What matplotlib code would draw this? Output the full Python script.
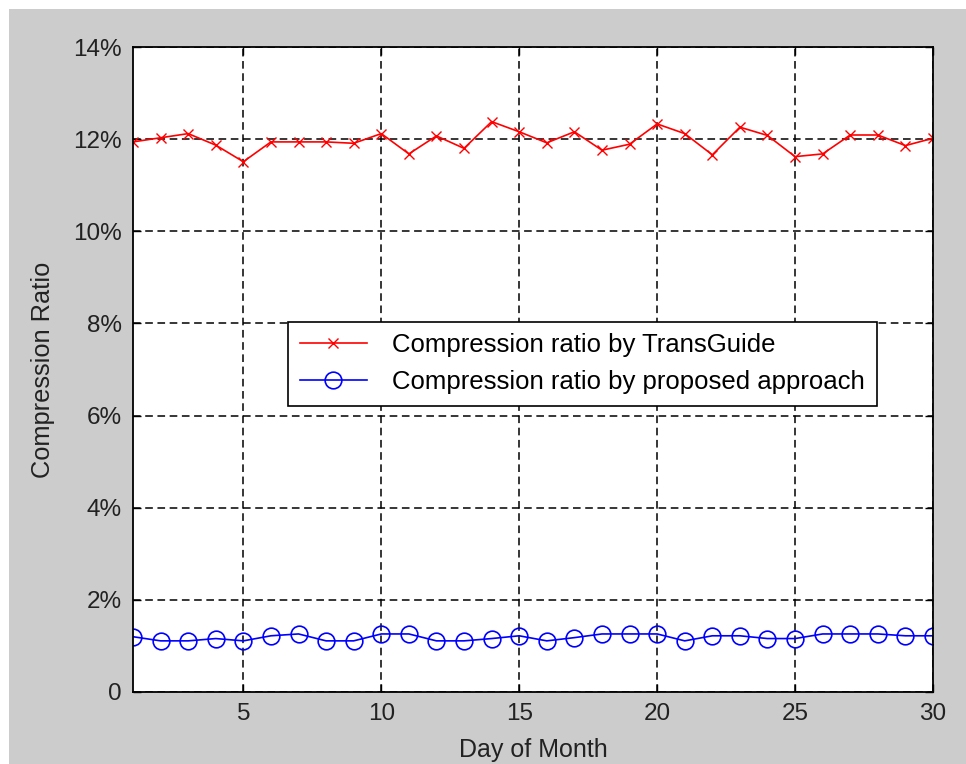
import matplotlib
matplotlib.use("Agg")
import matplotlib.pyplot as plt
from matplotlib.patches import Rectangle
from matplotlib.ticker import FuncFormatter

plt.rcParams['font.family'] = ['Liberation Sans', 'DejaVu Sans']

# Дни месяца и коэффициенты сжатия (в процентах)
days = list(range(1, 31))
transguide = [11.94, 12.03, 12.12, 11.87, 11.51, 11.94, 11.94, 11.94, 11.91, 12.12,
              11.68, 12.07, 11.80, 12.38, 12.16, 11.92, 12.16, 11.76, 11.89, 12.33,
              12.12, 11.66, 12.26, 12.08, 11.62, 11.68, 12.09, 12.09, 11.86, 12.02]
proposed = [1.20, 1.11, 1.11, 1.16, 1.11, 1.22, 1.26, 1.11, 1.11, 1.26,
            1.26, 1.11, 1.11, 1.16, 1.22, 1.11, 1.18, 1.26, 1.26, 1.26,
            1.11, 1.22, 1.22, 1.16, 1.16, 1.26, 1.26, 1.26, 1.22, 1.22]
y_ticks = [0, 2, 4, 6, 8, 10, 12, 14]
x_ticks = [5, 10, 15, 20, 25, 30]

fig = plt.figure(figsize=(9.66, 7.64), dpi=100, facecolor='white')
# серый фон окна
fig.add_artist(Rectangle((9 / 966, 0), 1, 755 / 764, transform=fig.transFigure,
                         facecolor='#cccccc', edgecolor='none', zorder=-10))
ax = fig.add_axes([133 / 966, 72 / 764, 800 / 966, 645 / 764])
ax.set_facecolor('white')

ax.plot(days, transguide, color='red', marker='x', markersize=7, linewidth=1.2,
        markeredgewidth=1.0, label="Compression ratio by TransGuide")
ax.plot(days, proposed, color='blue', marker='o', markersize=12, linewidth=1.2,
        markerfacecolor='none', markeredgewidth=1.2, label="Compression ratio by proposed approach")

ax.set_xlim(1, 30)
ax.set_ylim(0, 14)
ax.set_xticks(x_ticks)
ax.set_yticks(y_ticks)
ax.yaxis.set_major_formatter(FuncFormatter(lambda v, p: "0" if v == 0 else f"{int(v)}%"))

ax.grid(True, color='black', linestyle=(0, (5, 3)), linewidth=1.1)
ax.tick_params(direction='in', length=6, width=1.0, top=True, right=True,
               labelsize=17.5, labelcolor='#222222', pad=8)
for s in ax.spines.values():
    s.set_linewidth(1.3)

ax.set_xlabel("Day of Month", fontsize=18, color='#222222', labelpad=9)
ax.set_ylabel("Compression Ratio", fontsize=18.3, color='#222222', labelpad=13)

leg = ax.legend(loc='upper left', bbox_to_anchor=(0.194, 0.574), fontsize=18.5,
                fancybox=False, framealpha=1, edgecolor='black', handlelength=2.6,
                handletextpad=1.0, borderpad=0.45, labelspacing=0.5, borderaxespad=0)
leg.get_frame().set_linewidth(1.2)

fig.savefig("out.png", dpi=100, facecolor=fig.get_facecolor())
